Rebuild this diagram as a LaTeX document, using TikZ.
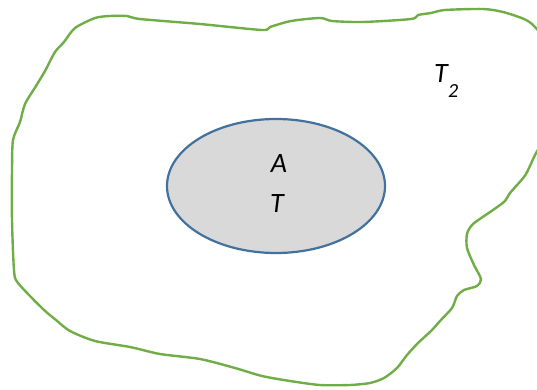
\documentclass[tikz,border=0pt]{standalone}
\usepackage{fontspec}
\setmainfont{Carlito}
\usetikzlibrary{shapes.geometric}
\definecolor{outgreen}{RGB}{112,173,71}
\definecolor{inblue}{RGB}{65,113,156}
\definecolor{ingray}{RGB}{217,217,217}
\begin{document}
\begin{tikzpicture}[x=1pt,y=-1pt,
  outline/.style={draw=outgreen, line width=2.4pt, line join=round},
  inner/.style={draw=inblue, fill=ingray, line width=2.2pt},
  lbl/.style={font=\fontsize{28}{32}\selectfont\itshape, inner sep=0pt, anchor=base}]
\useasboundingbox (0,0) rectangle (537,390);
\clip (0,0) rectangle (537,390);
\draw[outline]
  plot[smooth cycle, tension=0.45] coordinates {
  (95,18) (110,16) (127,16) (140,19) (200,24) (262,30) (270,27) (291,21) (320,18)
  (332,21) (363,22) (411,19) (418,15) (431,13) (445,10) (483,9) (503,12) (524,19)
  (534,26) (548,45) (556,90) (548,130) (535,155) (529,168) (524,177) (510,193) (505,201)
  (493,210) (473,224) (467,234) (467,248) (474,265) (481,279) (477,286) (464,290)
  (457,296) (452,308) (440,321) (431,331) (418,343) (407,355) (397,368) (384,378)
  (370,383) (350,385) (320,385) (290,381) (262,376) (235,368) (200,359) (160,354)
  (130,347) (95,341) (70,331) (56,320) (43,309) (18,283) (14,270) (12,220) (12,170)
  (13,140) (20,122) (25,104) (36,86) (45,71) (55,52) (64,42) (75,28) };
\node[inner, ellipse, minimum width=218pt, minimum height=134pt, inner sep=0pt] (E) at (276,186) {};
\node[lbl] (A) at (279,172) {A};
\node[lbl] (T) at (277,212) {T};
\node[lbl, anchor=base west] (T2) at (434,83) {T};
\node[font=\fontsize{20}{24}\selectfont\itshape, inner sep=0pt, anchor=base west] (two) at (448,98) {2};
\end{tikzpicture}
\end{document}
